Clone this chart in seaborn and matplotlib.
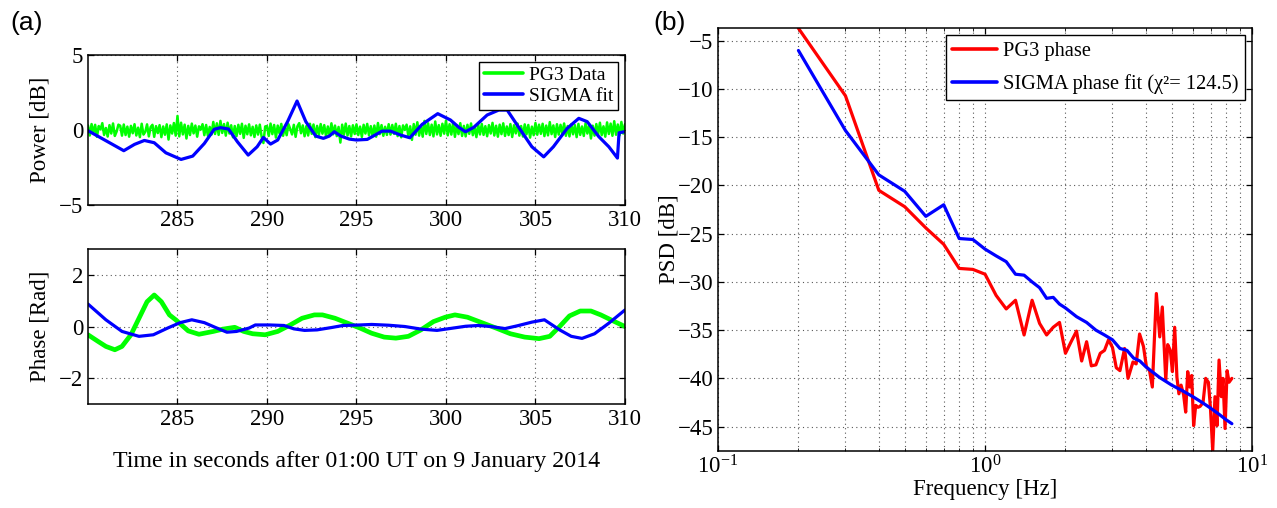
import matplotlib
matplotlib.use("Agg")
import matplotlib.pyplot as plt
import seaborn as sns
import pandas as pd
from matplotlib.ticker import LogLocator, NullFormatter

# ---------------- (a) time series ----------------
# PG3 received power fluctuation, sampled every 0.1 s from 280 s to 310 s
power_t0, power_dt = 280.0, 0.1
pg3_power = [
    0.32, -0.35, 0.41, -0.18, 0.36, -0.44, 0.28, 0.05, 0.47, -0.31,
    0.15, -0.42, 0.34, -0.22, 0.45, -0.38, -0.09, 0.37, 0.30, -0.36,
    0.38, -0.32, 0.24, -0.43, 0.29, -0.20, 0.40, -0.35, 0.17, -0.46,
    0.43, -0.29, -0.11, 0.39, -0.41, 0.21, 0.36, -0.44, 0.27, -0.19,
    0.34, -0.46, 0.25, -0.30, 0.39, -0.62, 0.32, -0.22, 0.48, -0.36,
    0.95, -0.41, 0.50, -0.28, 0.37, -0.55, 0.29, -0.32, 0.44, -0.21,
    0.31, -0.43, 0.26, 0.04, 0.40, -0.33, 0.35, -0.38, 0.22, -0.29,
    0.55, -0.25, 0.46, -0.31, 0.62, -0.18, 0.41, -0.36, 0.50, -0.22,
    0.33, -0.47, 0.28, -0.39, 0.36, -0.24, 0.43, -0.51, 0.30, -0.27,
    0.39, -0.34, 0.23, -0.45, 0.32, -0.29, 0.37, -0.42, -0.85, 0.25,
    0.28, -0.38, 0.44, -0.26, 0.35, -0.49, 0.31, -0.21, 0.42, -0.37,
    0.24, -0.33, 0.40, 0.08, -0.28, 0.36, -0.44, 0.26, 0.47, -0.20,
    0.32, -0.40, 0.27, -0.35, 0.43, -0.24, 0.38, -0.46, 0.29, -0.31,
    0.41, -0.23, 0.34, -0.42, 0.25, -0.37, 0.46, -0.27, 0.31, -0.39,
    0.22, -0.82, 0.37, -0.30, 0.44, -0.35, 0.28, -0.41, 0.33, -0.25,
    0.39, -0.32, 0.24, -0.45, 0.36, -0.22, 0.42, -0.34, 0.27, -0.38,
    0.31, -0.43, 0.48, -0.26, 0.34, -0.37, 0.23, -0.31, 0.40, -0.29,
    0.35, -0.24, 0.43, -0.39, 0.28, -0.47, 0.32, 0.02, 0.37, -0.40,
    0.26, -0.64, 0.41, -0.30, 0.53, -0.36, 0.29, -0.43, 0.62, -0.25,
    0.46, -0.32, 0.37, -0.41, 0.58, -0.28, 0.34, -0.37, 0.43, -0.23,
    0.64, -0.34, 0.40, -0.29, 0.51, -0.44, 0.32, -0.26, 0.47, -0.38,
    0.29, -0.41, 0.36, -0.24, 0.45, -0.33, 0.22, -0.46, 0.38, -0.28,
    0.42, -0.31, 0.27, -0.40, 0.34, -0.22, 0.49, -0.35, 0.30, -0.43,
    0.37, -0.26, 0.46, -0.38, 0.25, -0.32, 0.41, -0.45, 0.33, -0.21,
    0.44, -0.36, 0.28, -0.42, 0.39, -0.27, 0.35, -0.49, 0.24, -0.33,
    0.48, -0.30, 0.37, -0.24, 0.43, -0.39, 0.31, -0.34, 0.54, -0.26,
    0.32, -0.45, 0.40, -0.29, 0.36, -0.23, 0.45, -0.37, 0.28, -0.41,
    0.39, -0.27, 0.34, -0.46, 0.42, -0.31, 0.25, -0.38, 0.47, -0.22,
    0.35, -0.55, 0.30, -0.36, 0.41, -0.28, 0.50, -0.33, 0.26, -0.43,
    0.52, -0.25, 0.44, -0.37, 0.60, -0.30, 0.38, -0.34, 0.55, -0.22,
    0.40,
]
pg3_power_t = [round(power_t0 + power_dt * i, 2) for i in range(len(pg3_power))]

# SIGMA simulated power
sigma_power_t = [
    280.0, 282.0, 282.6, 283.15, 283.7, 284.35, 285.2, 285.85, 286.5, 287.05,
    287.4, 287.85, 288.35, 288.95, 289.45, 289.8, 290.2, 290.6, 291.15, 291.68,
    292.17, 292.73, 293.15, 293.48, 293.76, 294.13, 294.6, 295.0, 295.6, 296.43,
    296.9, 297.46, 297.98, 298.67, 299.54, 300.25, 300.72, 301.09, 301.55, 302.3,
    302.95, 303.42, 303.98, 304.8, 305.46, 306.0, 306.77, 307.42, 307.89, 308.54,
    309.1, 309.58, 309.67, 309.97,
]
sigma_power = [
    -0.03, -1.36, -0.94, -0.68, -0.83, -1.50, -1.94, -1.72, -0.88, 0.06,
    0.17, 0.08, -0.77, -1.65, -1.10, -0.48, -0.92, -0.65, 0.57, 1.94,
    0.57, -0.39, -0.54, -0.39, -0.10, -0.39, -0.59, -0.65, -0.61, -0.06,
    -0.06, -0.32, -0.50, 0.39, 1.10, 0.68, 0.19, -0.10, 0.19, 1.01,
    1.34, 1.34, 0.34, -1.10, -1.77, -1.10, 0.12, 0.79, 0.57, -0.43,
    -1.10, -1.85, -0.17, -0.10,
]

# PG3 carrier phase
pg3_phase_t = [
    280.0, 280.57, 281.0, 281.5, 281.9, 282.4, 282.85, 283.3, 283.7, 284.1,
    284.55, 284.9, 285.6, 286.2, 287.0, 287.55, 288.2, 288.7, 289.2, 289.9,
    290.6, 291.3, 291.96, 292.65, 293.1, 293.8, 294.5, 295.2, 295.85, 296.55,
    297.2, 297.9, 298.6, 299.3, 299.96, 300.5, 301.2, 302.0, 302.8, 303.6,
    304.4, 305.2, 305.8, 306.35, 306.9, 307.5, 308.1, 308.65, 309.3, 310.0,
]
pg3_phase = [
    -0.32, -0.58, -0.77, -0.90, -0.77, -0.32, 0.32, 0.96, 1.22, 0.96,
    0.45, 0.26, -0.17, -0.30, -0.19, -0.10, -0.03, -0.19, -0.28, -0.32,
    -0.19, 0.06, 0.32, 0.45, 0.45, 0.32, 0.13, -0.06, -0.26, -0.41,
    -0.45, -0.38, -0.13, 0.19, 0.36, 0.45, 0.36, 0.15, -0.06, -0.28,
    -0.41, -0.47, -0.38, 0.00, 0.41, 0.60, 0.60, 0.45, 0.23, 0.00,
]

# SIGMA simulated phase
sigma_phase_t = [
    280.0, 281.0, 281.9, 282.85, 283.65, 284.45, 285.15, 285.8, 286.5, 287.2,
    287.76, 288.3, 289.0, 289.35, 290.15, 290.95, 291.5, 292.1, 292.8, 293.6,
    294.25, 295.2, 295.85, 296.8, 297.7, 298.6, 299.5, 300.2, 301.1, 301.8,
    302.5, 303.3, 304.0, 304.8, 305.5, 306.35, 307.0, 307.6, 308.3, 309.1,
    310.0,
]
sigma_phase = [
    0.87, 0.26, -0.19, -0.38, -0.32, -0.06, 0.15, 0.26, 0.15, -0.06,
    -0.22, -0.19, -0.06, 0.06, 0.06, 0.04, -0.09, -0.15, -0.13, -0.04,
    0.04, 0.06, 0.08, 0.05, 0.00, -0.10, -0.15, -0.08, 0.01, 0.04,
    0.00, -0.08, 0.03, 0.17, 0.26, -0.13, -0.38, -0.46, -0.28, 0.13,
    0.64,
]

# ---------------- (b) phase spectra ----------------
pg3_freq = [
    0.2, 0.3, 0.4, 0.5, 0.6, 0.7, 0.8, 0.9, 1.0, 1.1,
    1.2, 1.3, 1.4, 1.5, 1.6, 1.7, 1.8, 1.9, 2.0, 2.1,
    2.2, 2.3, 2.4, 2.5, 2.6, 2.7, 2.8, 2.9, 3.0, 3.1,
    3.2, 3.33, 3.43, 3.58, 3.68, 3.79, 3.92, 4.02, 4.13, 4.23,
    4.38, 4.51, 4.61, 4.75, 4.83, 4.94, 5.03, 5.13, 5.23, 5.32,
    5.42, 5.54, 5.64, 5.74, 5.84, 5.94, 6.04, 6.15, 6.27, 6.39,
    6.55, 6.70, 6.86, 6.98, 7.12, 7.26, 7.39, 7.52, 7.67, 7.78,
    7.92, 8.06, 8.20, 8.40,
]
pg3_psd = [
    -3.7, -10.7, -20.5, -22.2, -24.4, -26.1, -28.6, -28.7, -29.2, -31.4,
    -32.8, -31.9, -35.5, -31.9, -34.3, -35.5, -34.7, -34.2, -37.4, -36.2,
    -35.1, -38.2, -36.2, -38.7, -38.6, -37.4, -37.1, -36.0, -36.8, -38.9,
    -39.2, -36.9, -40.0, -38.3, -38.5, -35.4, -36.7, -38.8, -39.2, -40.9,
    -31.2, -35.7, -32.6, -40.2, -36.5, -37.1, -39.3, -34.7, -39.9, -41.6,
    -40.7, -41.7, -43.5, -39.3, -40.9, -39.7, -44.9, -42.8, -43.0, -42.9,
    -42.5, -40.0, -40.4, -43.0, -47.5, -41.9, -44.9, -38.1, -41.9, -40.0,
    -45.2, -39.2, -40.4, -40.0,
]
sigma_freq = [
    0.2, 0.3, 0.4, 0.5, 0.6, 0.7, 0.8, 0.9, 1.0, 1.1,
    1.2, 1.3, 1.4, 1.5, 1.6, 1.7, 1.8, 1.9, 2.0, 2.2,
    2.4, 2.6, 2.8, 3.0, 3.2, 3.4, 3.6, 3.8, 4.0, 4.5,
    5.0, 5.5, 6.0, 6.5, 7.0, 7.5, 8.0, 8.4,
]
sigma_psd = [
    -6.0, -14.3, -18.9, -20.6, -23.2, -22.0, -25.5, -25.6, -26.6, -27.3,
    -27.9, -29.2, -29.3, -30.0, -30.6, -31.7, -31.6, -32.3, -32.7, -33.6,
    -34.2, -35.0, -35.5, -36.0, -36.9, -37.1, -37.9, -38.2, -38.8, -39.9,
    -40.7, -41.3, -41.9, -42.5, -43.1, -43.7, -44.3, -44.7,
]
chi2 = 124.5

# ---------------- styling ----------------
sns.set_style("white")
plt.rcParams.update({
    "font.family": ["Liberation Serif", "DejaVu Serif"],
    "mathtext.fontset": "custom",
    "mathtext.rm": "Liberation Serif",
    "mathtext.it": "Liberation Serif:italic",
    "mathtext.bf": "Liberation Serif:bold",
    "axes.edgecolor": "black",
    "axes.linewidth": 1.1,
    "axes.grid": False,
    "xtick.bottom": True, "ytick.left": True,
    "xtick.top": True, "ytick.right": True,
    "xtick.direction": "in", "ytick.direction": "in",
    "xtick.color": "black", "ytick.color": "black",
    "xtick.major.size": 4, "ytick.major.size": 4,
    "xtick.minor.size": 2.5, "ytick.minor.size": 2.5,
    "xtick.major.width": 0.9, "ytick.major.width": 0.9,
    "text.color": "black", "axes.labelcolor": "black",
})

GREEN, BLUE, RED = "#00ff00", "#0000ff", "#ff0000"
FS = 16.5
TS = 16.5
grid_kw = dict(color="0.35", linestyle=(0, (1, 3)), linewidth=0.8)

fig = plt.figure(figsize=(12.77, 5.08), dpi=100)
ax1 = fig.add_axes([0.0689, 0.5955, 0.4205, 0.2963])
ax2 = fig.add_axes([0.0689, 0.2047, 0.4205, 0.3051])
ax3 = fig.add_axes([0.5623, 0.1128, 0.4182, 0.8315])

power_df = pd.DataFrame({"t": pg3_power_t, "v": pg3_power})
sns.lineplot(data=power_df, x="t", y="v", ax=ax1, color=GREEN, lw=1.8,
             estimator=None, sort=False, label="PG3 Data")
sns.lineplot(x=sigma_power_t, y=sigma_power, ax=ax1, color=BLUE, lw=2.3,
             estimator=None, sort=False, label="SIGMA fit")
ax1.set_xlim(280, 310)
ax1.set_ylim(-5, 5)
ax1.set_xticks([285, 290, 295, 300, 305, 310])
ax1.set_yticks([-5, 0, 5])
ax1.set_xlabel("")
ax1.set_ylabel("Power [dB]", fontsize=FS)
ax1.grid(True, **grid_kw)
leg1 = ax1.legend(loc="upper right", fontsize=14, frameon=True, fancybox=False,
                  edgecolor="black", framealpha=1, borderaxespad=0.35,
                  handlelength=2.0, borderpad=0.25, labelspacing=0.15, handletextpad=0.3)
leg1.get_frame().set_linewidth(1.0)
for h in leg1.get_lines():
    h.set_linewidth(2.6)

sns.lineplot(x=pg3_phase_t, y=pg3_phase, ax=ax2, color=GREEN, lw=3.4,
             estimator=None, sort=False)
sns.lineplot(x=sigma_phase_t, y=sigma_phase, ax=ax2, color=BLUE, lw=2.3,
             estimator=None, sort=False)
ax2.set_xlim(280, 310)
ax2.set_ylim(-3, 3)
ax2.set_xticks([285, 290, 295, 300, 305, 310])
ax2.set_yticks([-2, 0, 2])
ax2.set_ylabel("Phase [Rad]", fontsize=FS)
ax2.set_xlabel("Time in seconds after 01:00 UT on 9 January 2014", fontsize=17.3, labelpad=15)
ax2.grid(True, **grid_kw)

for ax in (ax1, ax2):
    ax.tick_params(labelsize=TS)
    ax.yaxis.set_label_coords(-0.07, 0.5)

sns.lineplot(x=pg3_freq, y=pg3_psd, ax=ax3, color=RED, lw=2.3,
             estimator=None, sort=False, label="PG3 phase")
sns.lineplot(x=sigma_freq, y=sigma_psd, ax=ax3, color=BLUE, lw=2.3,
             estimator=None, sort=False,
             label=f"SIGMA phase fit (\u03c7\u00b2= {chi2})")
ax3.set_xscale("log")
ax3.set_xlim(0.1, 10)
ax3.set_ylim(-47.5, -3.7)
ax3.set_yticks(list(range(-45, -4, 5)))
ax3.xaxis.set_major_locator(LogLocator(base=10, numticks=5))
ax3.xaxis.set_minor_locator(LogLocator(base=10, subs=range(2, 10), numticks=20))
ax3.xaxis.set_minor_formatter(NullFormatter())
ax3.tick_params(labelsize=TS)
ax3.set_xlabel("Frequency [Hz]", fontsize=FS, labelpad=0)
ax3.set_ylabel("PSD [dB]", fontsize=FS)
ax3.yaxis.set_label_coords(-0.072, 0.5)
ax3.grid(True, which="major", **grid_kw)
ax3.grid(True, which="minor", axis="x", **grid_kw)
leg3 = ax3.legend(loc="upper right", fontsize=14.7, frameon=True, fancybox=False,
                  edgecolor="black", framealpha=1, borderaxespad=0.35,
                  handlelength=2.2, borderpad=0.3, labelspacing=0.65, handletextpad=0.3)
leg3.get_frame().set_linewidth(1.0)
for h in leg3.get_lines():
    h.set_linewidth(2.6)

fig.text(0.008, 0.955, "(a)", fontsize=19, family="Liberation Sans", va="center")
fig.text(0.512, 0.955, "(b)", fontsize=19, family="Liberation Sans", va="center")

fig.savefig("out.png", dpi=100)
